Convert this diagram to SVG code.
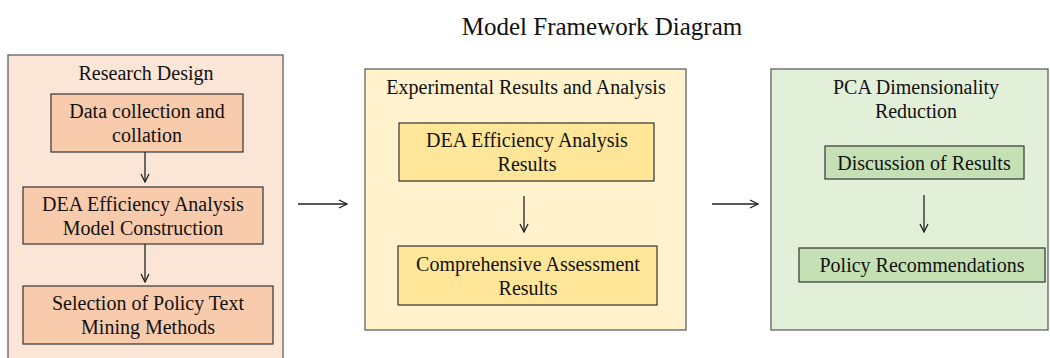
<svg xmlns="http://www.w3.org/2000/svg" width="1050" height="358" viewBox="0 0 1050 358">
<defs>
<style>
text{font-family:"Liberation Serif","Times New Roman",serif;fill:#111;text-anchor:middle}
.t{font-size:20px}
.h{font-size:20px}
.title{font-size:25px}
.p1{fill:#fbe5d6;stroke:#555;stroke-width:1.2}
.b1{fill:#f8cbad;stroke:#333;stroke-width:1.2}
.p2{fill:#fff2cc;stroke:#555;stroke-width:1.2}
.b2{fill:#ffe699;stroke:#333;stroke-width:1.2}
.p3{fill:#e2f0d9;stroke:#555;stroke-width:1.2}
.b3{fill:#c5e0b4;stroke:#333;stroke-width:1.2}
.c{stroke:#222;stroke-width:1.3;fill:none;marker-end:url(#ah)}
</style>
<marker id="ah" viewBox="0 0 10 10" refX="9" refY="5" markerWidth="10" markerHeight="10" markerUnits="userSpaceOnUse" orient="auto">
<path d="M1,1 L9,5 L1,9" fill="none" stroke="#222" stroke-width="1.3"/>
</marker>
</defs>
<rect width="1050" height="358" fill="#fff"/>
<text class="title" x="602" y="35">Model Framework Diagram</text>

<g id="panel-research-design">
<rect class="p1" x="8" y="55" width="275" height="310"/>
<text class="h" x="146" y="80">Research Design</text>
</g>
<g id="node-data-collection">
<rect class="b1" x="51" y="94" width="192" height="58"/>
<text class="t" x="147" y="118">Data collection and</text>
<text class="t" x="147" y="142">collation</text>
</g>
<g id="node-dea-model">
<rect class="b1" x="23" y="187" width="240" height="57"/>
<text class="t" x="143" y="210.5">DEA Efficiency Analysis</text>
<text class="t" x="143" y="234.5">Model Construction</text>
</g>
<g id="node-selection">
<rect class="b1" x="23" y="286" width="250" height="58"/>
<text class="t" x="148" y="310">Selection of Policy Text</text>
<text class="t" x="148" y="334">Mining Methods</text>
</g>

<g id="panel-experimental">
<rect class="p2" x="365" y="69" width="321" height="261"/>
<text class="h" x="526" y="94">Experimental Results and Analysis</text>
</g>
<g id="node-dea-results">
<rect class="b2" x="399" y="123" width="255" height="58"/>
<text class="t" x="527" y="147">DEA Efficiency Analysis</text>
<text class="t" x="527" y="171">Results</text>
</g>
<g id="node-comprehensive">
<rect class="b2" x="398" y="246" width="259" height="59"/>
<text class="t" x="528" y="271">Comprehensive Assessment</text>
<text class="t" x="528" y="295">Results</text>
</g>

<g id="panel-pca">
<rect class="p3" x="771" y="69" width="277" height="261"/>
<text class="h" x="916" y="94">PCA Dimensionality</text>
<text class="h" x="916" y="118">Reduction</text>
</g>
<g id="node-discussion">
<rect class="b3" x="825" y="146" width="199" height="33"/>
<text class="t" x="924" y="169.5">Discussion of Results</text>
</g>
<g id="node-policy">
<rect class="b3" x="799" y="248" width="246" height="34"/>
<text class="t" x="922" y="272">Policy Recommendations</text>
</g>

<g id="connectors">
<line class="c" x1="145" y1="152" x2="145" y2="182"/>
<line class="c" x1="145" y1="244" x2="145" y2="282"/>
<line class="c" x1="298" y1="204" x2="347" y2="204"/>
<line class="c" x1="524" y1="196" x2="524" y2="232"/>
<line class="c" x1="712" y1="204" x2="758" y2="204"/>
<line class="c" x1="924" y1="195" x2="924" y2="232"/>
</g>
</svg>
